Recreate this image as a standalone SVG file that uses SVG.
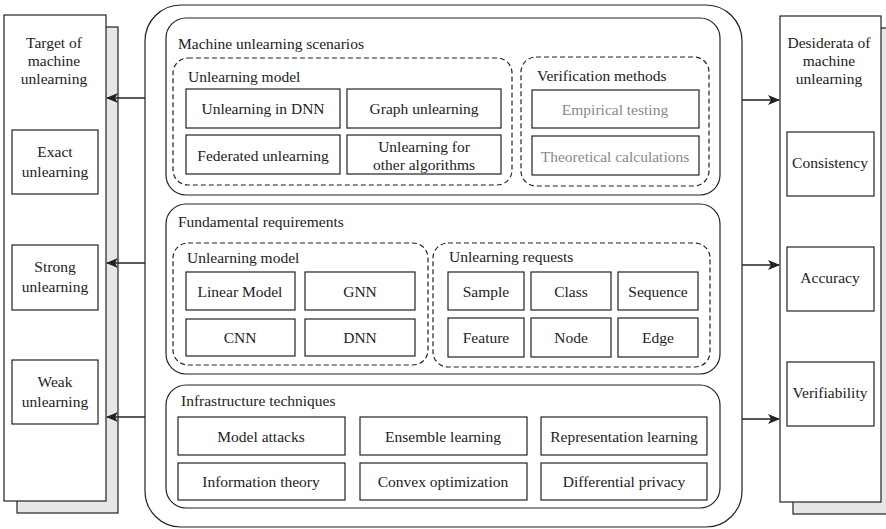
<svg xmlns="http://www.w3.org/2000/svg" width="886" height="529" viewBox="0 0 886 529">
<style>
text{font-family:"Liberation Serif","Times New Roman",serif;font-size:15.5px;fill:#222}
.c{text-anchor:middle}
.g{fill:#8a8a8a}
.box{fill:#fff;stroke:#222;stroke-width:1.2}
.sec{fill:#fff;stroke:#222;stroke-width:1.2}
.dash{fill:none;stroke:#222;stroke-width:1.2;stroke-dasharray:5 3}
.shadow{fill:#e6e6e6;stroke:#222;stroke-width:1.2}
.arr{stroke:#222;stroke-width:1.3;fill:none;marker-end:url(#ah)}
</style>
<defs>
<marker id="ah" markerWidth="12" markerHeight="10" refX="11" refY="5" orient="auto" markerUnits="userSpaceOnUse">
<path d="M0,0 L12,5 L0,10 L3,5 Z" fill="#222"/>
</marker>
</defs>
<rect width="886" height="529" fill="#fff"/>

<g id="left-panel">
<rect class="shadow" x="17" y="27" width="101" height="486"/>
<rect class="box" x="4" y="15" width="102" height="486"/>
<text class="c" x="54" y="48">Target of</text>
<text class="c" x="54" y="66">machine</text>
<text class="c" x="54" y="84">unlearning</text>
</g>
<g id="exact"><rect class="box" x="12" y="130" width="86" height="64"/><text class="c" x="55" y="157">Exact</text><text class="c" x="55" y="177">unlearning</text></g>
<g id="strong"><rect class="box" x="12" y="245" width="86" height="65"/><text class="c" x="55" y="272">Strong</text><text class="c" x="55" y="292">unlearning</text></g>
<g id="weak"><rect class="box" x="12" y="360" width="86" height="64"/><text class="c" x="55" y="387">Weak</text><text class="c" x="55" y="407">unlearning</text></g>

<g id="right-panel">
<rect class="shadow" x="793" y="28" width="100" height="486"/>
<rect class="box" x="780" y="16" width="101" height="486"/>
<text class="c" x="829" y="48">Desiderata of</text>
<text class="c" x="829" y="66">machine</text>
<text class="c" x="829" y="84">unlearning</text>
</g>
<g id="consistency"><rect class="box" x="787" y="132" width="87" height="64"/><text class="c" x="830" y="168">Consistency</text></g>
<g id="accuracy"><rect class="box" x="787" y="247" width="87" height="64"/><text class="c" x="830" y="283">Accuracy</text></g>
<g id="verifiability"><rect class="box" x="787" y="362" width="87" height="64"/><text class="c" x="830" y="398">Verifiability</text></g>

<g id="main">
<rect class="sec" x="145" y="5" width="597" height="522" rx="36"/>
</g>

<g id="scenarios">
<rect class="sec" x="166" y="18" width="554" height="177" rx="20"/>
<text x="178" y="49">Machine unlearning scenarios</text>
<rect class="dash" x="173" y="58" width="339" height="127" rx="15"/>
<text x="188" y="82">Unlearning model</text>
<rect class="box" x="186" y="89" width="154" height="39"/><text class="c" x="263" y="114">Unlearning in DNN</text>
<rect class="box" x="347" y="89" width="154" height="39"/><text class="c" x="424" y="114">Graph unlearning</text>
<rect class="box" x="186" y="135" width="154" height="39"/><text class="c" x="263" y="161">Federated unlearning</text>
<rect class="box" x="347" y="135" width="154" height="39"/><text class="c" x="424" y="152">Unlearning for</text><text class="c" x="424" y="170">other  algorithms</text>
<rect class="dash" x="521" y="57" width="188" height="129" rx="15"/>
<text x="537" y="81">Verification methods</text>
<rect class="box" x="532" y="90" width="167" height="38"/><text class="c g" x="615" y="115">Empirical testing</text>
<rect class="box" x="532" y="136" width="167" height="39"/><text class="c g" x="615" y="162">Theoretical calculations</text>
</g>

<g id="fundamental">
<rect class="sec" x="166" y="204" width="554" height="170" rx="20"/>
<text x="178" y="227">Fundamental requirements</text>
<rect class="dash" x="173" y="243" width="255" height="122" rx="15"/>
<text x="187" y="263">Unlearning model</text>
<rect class="box" x="186" y="272" width="109" height="38"/><text class="c" x="240" y="297">Linear Model</text>
<rect class="box" x="305" y="272" width="110" height="38"/><text class="c" x="360" y="297">GNN</text>
<rect class="box" x="186" y="319" width="109" height="37"/><text class="c" x="240" y="343">CNN</text>
<rect class="box" x="305" y="319" width="110" height="37"/><text class="c" x="360" y="343">DNN</text>
<rect class="dash" x="433" y="243" width="277" height="124" rx="15"/>
<text x="449" y="262">Unlearning requests</text>
<rect class="box" x="448" y="272" width="76" height="38"/><text class="c" x="486" y="297">Sample</text>
<rect class="box" x="531" y="272" width="80" height="38"/><text class="c" x="571" y="297">Class</text>
<rect class="box" x="618" y="272" width="80" height="38"/><text class="c" x="658" y="297">Sequence</text>
<rect class="box" x="448" y="318" width="76" height="39"/><text class="c" x="486" y="343">Feature</text>
<rect class="box" x="531" y="318" width="80" height="39"/><text class="c" x="571" y="343">Node</text>
<rect class="box" x="618" y="318" width="80" height="39"/><text class="c" x="658" y="343">Edge</text>
</g>

<g id="infrastructure">
<rect class="sec" x="166" y="385" width="554" height="123" rx="20"/>
<text x="181" y="406">Infrastructure techniques</text>
<rect class="box" x="178" y="417" width="167" height="38"/><text class="c" x="261" y="442">Model attacks</text>
<rect class="box" x="360" y="417" width="167" height="38"/><text class="c" x="443" y="442">Ensemble learning</text>
<rect class="box" x="541" y="417" width="166" height="38"/><text class="c" x="624" y="442">Representation learning</text>
<rect class="box" x="178" y="463" width="167" height="37"/><text class="c" x="261" y="487">Information theory</text>
<rect class="box" x="360" y="463" width="167" height="37"/><text class="c" x="443" y="487">Convex optimization</text>
<rect class="box" x="541" y="463" width="166" height="37"/><text class="c" x="624" y="487">Differential privacy</text>
</g>

<g id="connectors">
<line class="arr" x1="145" y1="98" x2="107" y2="98"/>
<line class="arr" x1="145" y1="263" x2="107" y2="263"/>
<line class="arr" x1="145" y1="417" x2="107" y2="417"/>
<line class="arr" x1="742" y1="100" x2="779" y2="100"/>
<line class="arr" x1="742" y1="265" x2="779" y2="265"/>
<line class="arr" x1="742" y1="419" x2="779" y2="419"/>
</g>
</svg>
